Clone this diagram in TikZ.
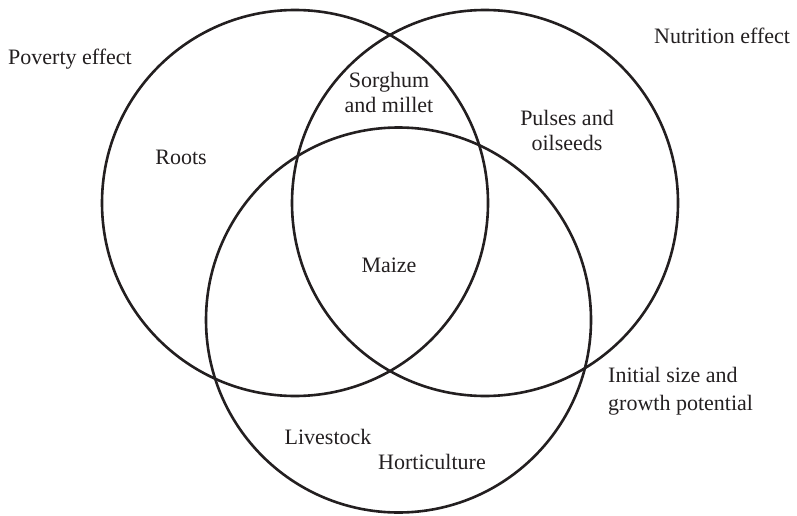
\documentclass[tikz,border=0pt]{standalone}
\usepackage{fontspec}
\setmainfont{Liberation Serif}
\definecolor{ink}{HTML}{231F20}
\begin{document}
\begin{tikzpicture}[x=1pt,y=-1pt,
  setring/.style={circle, draw=ink, line width=2.6pt, inner sep=0pt, outer sep=0pt, minimum size=386pt},
  lbl/.style={text=ink, font=\fontsize{22}{25}\selectfont, inner sep=0pt},
  clbl/.style={lbl, align=center},
  llbl/.style={lbl, align=left, anchor=west}]
  \useasboundingbox (0,0) rectangle (797,516);
  % the three overlapping sets
  \node[setring] (poverty) at (295,203) {};
  \node[setring] (nutrition) at (485,203) {};
  \node[setring, minimum size=385pt] (growth) at (398.5,320) {};
  % set captions
  \node[llbl] (povcap) at (8,59) {Poverty effect};
  \node[llbl] (nutcap) at (654,36) {Nutrition effect};
  \node[llbl, font=\fontsize{22}{28}\selectfont] (grocap) at (608,391) {Initial size and\\growth potential};
  % crops in each region
  \node[clbl] (roots) at (181,157) {Roots};
  \node[clbl] (sorghum) at (389,92) {Sorghum\\and millet};
  \node[clbl] (pulses) at (567,130) {Pulses and\\oilseeds};
  \node[clbl] (maize) at (389,265) {Maize};
  \node[clbl] (livestock) at (328,437) {Livestock};
  \node[clbl] (hort) at (432,462) {Horticulture};
\end{tikzpicture}
\end{document}
